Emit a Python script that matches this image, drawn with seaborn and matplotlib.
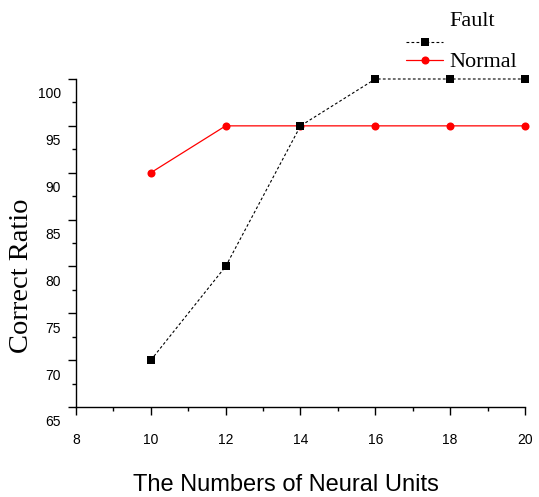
import numpy as np
import pandas as pd
import matplotlib
matplotlib.use("Agg")
import matplotlib.pyplot as plt
import matplotlib.transforms as mtransforms
from matplotlib.lines import Line2D
from matplotlib.ticker import MultipleLocator
import seaborn as sns

# Network size vs. recognition accuracy
neural_units = [10, 12, 14, 16, 18, 20]
fault_ratio = [70, 80, 95, 100, 100, 100]
normal_ratio = [90, 95, 95, 95, 95, 95]
series_names = ["Fault", "Normal"]

x_ticks = [8, 10, 12, 14, 16, 18, 20]
y_ticks = [65, 70, 75, 80, 85, 90, 95, 100]

sns.set_style("ticks")
plt.rcParams["font.family"] = ["Liberation Sans", "DejaVu Sans"]

df = pd.DataFrame({
    "units": neural_units * 2,
    "ratio": fault_ratio + normal_ratio,
    "series": [series_names[0]] * len(neural_units) + [series_names[1]] * len(neural_units),
})

fig = plt.figure(figsize=(5.39, 4.97), dpi=100)
ax = fig.add_axes([76 / 539, 1 - 407 / 497, 449 / 539, 328 / 497])

fault_style = dict(color="black", lw=0.8, ls=(0, (2.5, 2)), marker="s", ms=5.5,
                   mfc="black", mec="black", mew=0)
normal_style = dict(color="#ff0000", lw=0.9, ls="-", marker="o", ms=5.8,
                    mfc="#ff0000", mec="#ff0000", mew=0)

sns.lineplot(data=df[df.series == "Normal"], x="units", y="ratio", ax=ax,
             legend=False, clip_on=False, **normal_style)
sns.lineplot(data=df[df.series == "Fault"], x="units", y="ratio", ax=ax,
             legend=False, clip_on=False, **fault_style)

ax.set_xlim(8, 20)
ax.set_ylim(65, 100)
ax.set_xticks(x_ticks)
ax.set_yticks(y_ticks)
ax.xaxis.set_minor_locator(MultipleLocator(1))
ax.yaxis.set_minor_locator(MultipleLocator(2.5))
ax.tick_params(which="major", direction="out", length=6, width=1, colors="black",
               labelsize=10, pad=13)
ax.tick_params(which="minor", direction="out", length=3, width=1, colors="black")
ax.tick_params(axis="y", which="major", pad=5)
ax.set_xticklabels([str(v) for v in x_ticks])
ax.set_yticklabels([str(v) for v in y_ticks])

sns.despine(ax=ax)
for side in ("left", "bottom"):
    ax.spines[side].set_linewidth(1)
    ax.spines[side].set_color("black")

# y tick labels sit a little below their ticks
shift = mtransforms.ScaledTranslation(0, -14 / 100, fig.dpi_scale_trans)
for lab in ax.get_yticklabels():
    lab.set_transform(lab.get_transform() + shift)

ax.set_xlabel("The Numbers of Neural Units", fontsize=17, color="black")
ax.xaxis.set_label_coords(0.468, -0.205)
ax.set_ylabel("Correct Ratio", fontsize=20.5, color="black",
              family=["Liberation Serif", "DejaVu Serif"])
ax.yaxis.set_label_coords(-0.093, 0.401)

# legend
x0, x1 = 406 / 539, 443 / 539
xm = (x0 + x1) / 2
yf = 1 - 42 / 497
yn = 1 - 60 / 497
fig.add_artist(Line2D([x0, xm, x1], [yf, yf, yf], transform=fig.transFigure,
                      markevery=[1], **fault_style))
fig.add_artist(Line2D([x0, xm, x1], [yn, yn, yn], transform=fig.transFigure,
                      markevery=[1], **normal_style))
serif = ["Liberation Serif", "DejaVu Serif"]
fig.text(449 / 539, 1 - 26 / 497, series_names[0], fontsize=16, family=serif,
         va="baseline", ha="left", color="black")
fig.text(449 / 539, 1 - 67 / 497, series_names[1], fontsize=16, family=serif,
         va="baseline", ha="left", color="black")

fig.savefig("out.png", dpi=100, facecolor="white")
